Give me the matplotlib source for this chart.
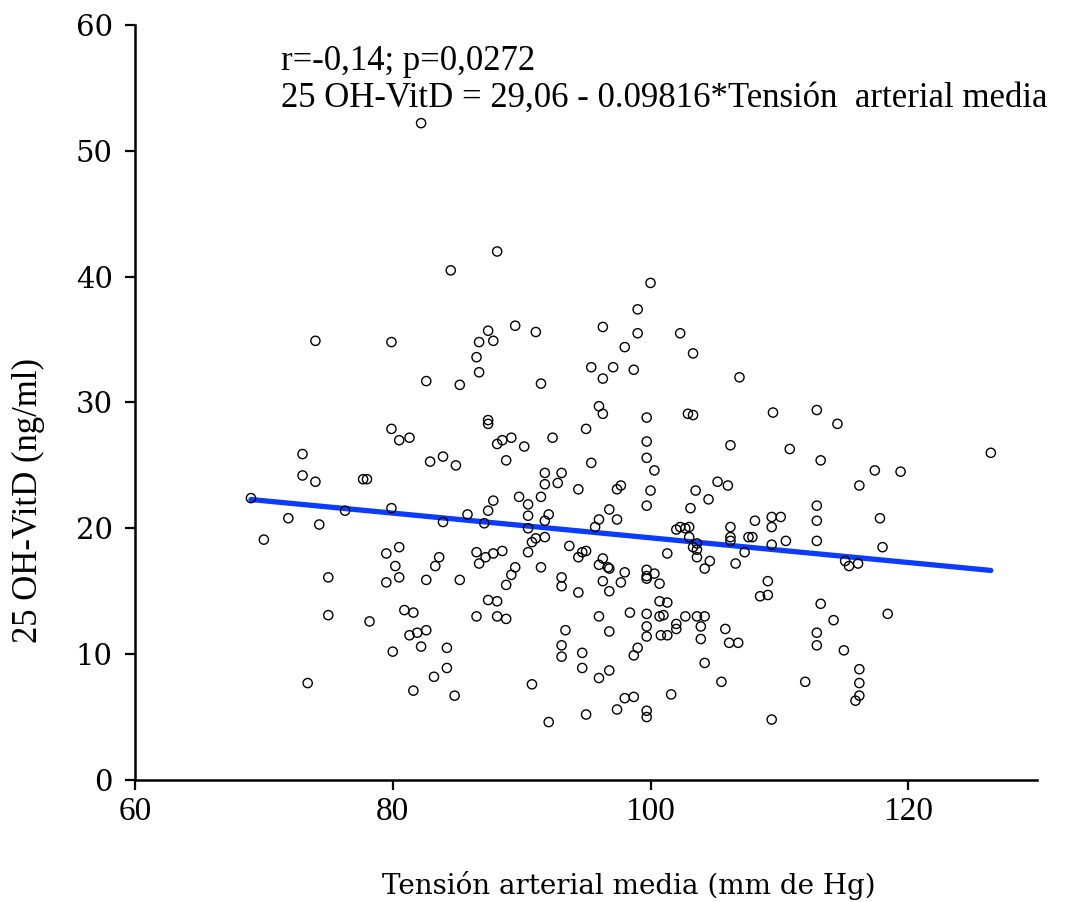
from matplotlib import pyplot as plt
import numpy as np

# mean arterial pressure (mm Hg) and 25 OH-VitD (ng/ml).
tension = [
    82.2, 84.5, 74.0, 79.9, 86.7, 86.5, 86.7, 82.6, 85.2, 79.9,
    88.1, 100.0, 99.0, 96.3, 99.0, 102.3, 89.5, 91.1, 87.4, 87.8,
    98.0, 103.3, 95.4, 97.1, 98.7, 96.3, 91.5, 96.0, 96.3, 99.7,
    102.9, 103.3, 87.4, 87.4, 95.0,
    106.9, 109.5, 112.9, 114.5,
    80.5, 81.3, 73.0, 73.0, 74.0, 77.7, 78.0, 82.9, 83.9, 84.9,
    69.0, 71.9, 74.3, 76.3, 79.9, 83.9, 85.8, 70.0, 79.5, 80.5,
    83.6, 83.3, 80.2, 86.5, 86.7, 75.0, 79.5, 80.5, 82.6, 85.2,
    75.0, 78.2, 80.9, 81.6, 86.5, 81.3, 81.9, 82.6, 82.2, 84.2,
    80.0, 84.2, 83.2, 73.4, 81.6, 84.8,
    88.1, 88.5, 89.2, 90.2, 92.4, 99.7, 106.2,
    88.8, 95.4, 99.7, 100.3, 91.8, 93.1, 91.8, 92.8, 94.4, 97.4,
    97.7, 100.0, 99.7, 103.5, 105.2, 106.0, 104.5, 103.1,
    87.8, 87.4, 89.8, 90.5, 91.5, 90.5, 92.1, 91.8, 96.8, 97.4,
    96.0, 95.7, 87.1, 90.5, 91.8, 91.1, 90.8,
    102.0, 102.3, 102.7, 103.0, 103.0, 103.6, 103.3, 103.6, 103.6, 106.2, 106.2,
    87.2, 87.8, 88.5, 90.5, 93.7, 94.4, 94.7, 95.0, 96.3, 96.0,
    96.7, 96.8, 98.0, 97.7, 96.3, 96.8,
    99.7, 99.7, 99.7, 100.3, 100.7, 101.3, 104.2, 104.6,
    91.5, 89.5, 89.2, 88.8, 93.1, 93.1, 94.4, 87.4, 88.1, 88.1,
    88.8, 96.0, 98.4, 99.7, 100.7, 101.3, 100.7, 101.0, 102.7, 103.6,
    104.2, 102.0, 102.0, 103.9, 103.9, 105.8, 100.8, 101.3, 99.7, 99.7,
    96.8, 93.4, 93.1, 93.1, 94.7, 94.7, 96.0, 96.8, 99.0, 98.7,
    104.2, 105.5, 90.8, 98.0, 98.7, 101.6, 97.4, 99.7, 99.7, 95.0, 92.1,
    110.8, 113.2, 117.4, 119.4, 126.4, 116.2, 112.9, 112.9, 112.9, 117.8,
    108.1, 109.4, 110.1, 109.4, 110.5, 109.4, 107.6, 107.9, 106.2, 107.3,
    106.6, 118.0, 115.1, 115.4, 116.1, 109.1, 108.5, 109.1, 113.2, 114.2,
    118.4, 112.9, 112.9, 115.0, 106.1, 106.8, 116.2, 116.2, 116.2, 115.9,
    112.0, 109.4,
]
vitd = [
    52.2, 40.5, 34.9, 34.8, 34.8, 33.6, 32.4, 31.7, 31.4, 27.9,
    42.0, 39.5, 37.4, 36.0, 35.5, 35.5, 36.1, 35.6, 35.7, 34.9,
    34.4, 33.9, 32.8, 32.8, 32.6, 31.9, 31.5, 29.7, 29.1, 28.8,
    29.1, 29.0, 28.6, 28.3, 27.9,
    32.0, 29.2, 29.4, 28.3,
    27.0, 27.2, 25.9, 24.2, 23.7, 23.9, 23.9, 25.3, 25.7, 25.0,
    22.4, 20.8, 20.3, 21.4, 21.6, 20.5, 21.1, 19.1, 18.0, 18.5,
    17.7, 17.0, 17.0, 18.1, 17.2, 16.1, 15.7, 16.1, 15.9, 15.9,
    13.1, 12.6, 13.5, 13.3, 13.0, 11.5, 11.7, 11.9, 10.6, 10.5,
    10.2, 8.9, 8.2, 7.7, 7.1, 6.7,
    26.7, 27.0, 27.2, 26.5, 27.2, 26.9, 26.6,
    25.4, 25.2, 25.6, 24.6, 24.4, 24.4, 23.5, 23.6, 23.1, 23.1,
    23.4, 23.0, 21.8, 23.0, 23.7, 23.4, 22.3, 21.6,
    22.2, 21.4, 22.5, 21.9, 22.5, 21.0, 21.1, 20.6, 21.5, 20.7,
    20.7, 20.1, 20.4, 20.0, 19.3, 19.2, 18.9,
    19.9, 20.1, 20.0, 20.1, 19.3, 18.8, 18.5, 18.3, 17.7, 20.1, 19.3,
    17.7, 18.0, 18.2, 18.1, 18.6, 17.7, 18.1, 18.2, 17.6, 17.1,
    16.9, 16.8, 16.5, 15.7, 15.8, 15.0,
    16.7, 16.2, 16.0, 16.4, 15.6, 18.0, 16.8, 17.4,
    16.9, 16.9, 16.3, 15.5, 16.1, 15.4, 14.9, 14.3, 14.2, 13.0,
    12.8, 13.0, 13.3, 13.2, 14.2, 14.1, 13.0, 13.1, 13.0, 13.0,
    13.0, 12.4, 12.0, 12.2, 11.2, 12.0, 11.5, 11.5, 12.2, 11.4,
    11.8, 11.9, 10.7, 9.8, 10.1, 8.9, 8.1, 8.7, 10.5, 9.9,
    9.3, 7.8, 7.6, 6.5, 6.6, 6.8, 5.6, 5.5, 5.0, 5.2, 4.6,
    26.3, 25.4, 24.6, 24.5, 26.0, 23.4, 21.8, 20.6, 19.0, 20.8,
    20.6, 20.9, 20.9, 20.1, 19.0, 18.7, 19.3, 19.3, 19.0, 18.1,
    17.2, 18.5, 17.4, 17.0, 17.2, 15.8, 14.6, 14.7, 14.0, 12.7,
    13.2, 11.7, 10.7, 10.3, 10.9, 10.9, 8.8, 7.7, 6.7, 6.3,
    7.8, 4.8,
]

# regression shown on the chart.
intercept = 29.06
slope = -0.09816

x_ticks = [60, 80, 100, 120]
y_ticks = [0, 10, 20, 30, 40, 50, 60]

fig = plt.figure(figsize=(10.66, 9.02), dpi=100)
ax = fig.add_axes([0.1266, 0.1353, 0.8464, 0.837])

# regression line over the range of the data.
line_x = np.array([min(tension), max(tension)])
ax.plot(line_x, intercept + slope * line_x, color="#0a3cff", linewidth=3.8,
        solid_capstyle="round", zorder=2)

# open circles for each patient.
ax.scatter(tension, vitd, s=44, facecolors="none", edgecolors="black",
           linewidths=1.0, zorder=3)

ax.set_xlim(60, 130)
ax.set_ylim(0, 60)
ax.set_xticks(x_ticks)
ax.set_yticks(y_ticks)

# only left and bottom axis lines.
for side in ["top", "right"]:
    ax.spines[side].set_visible(False)
for side in ["left", "bottom"]:
    ax.spines[side].set_linewidth(1.8)

ax.tick_params(direction="out", length=7, width=1.6)
ax.tick_params(axis="x", pad=5)
ax.tick_params(axis="y", pad=9)
for label in ax.get_xticklabels():
    label.set_fontfamily("Liberation Serif")
    label.set_fontsize(24)
for label in ax.get_yticklabels():
    label.set_fontfamily("DejaVu Serif")
    label.set_fontsize(21)

ax.set_xlabel("Tensión arterial media (mm de Hg)", fontfamily="DejaVu Serif",
              fontsize=20)
ax.xaxis.set_label_coords(0.547, -0.12)
ax.set_ylabel("25 OH-VitD (ng/ml)", fontfamily="Liberation Serif",
              fontsize=25)
ax.yaxis.set_label_coords(-0.1, 0.37)

# stats text in the upper part of the plot.
ax.text(0.162, 0.951, "r=-0,14; p=0,0272", transform=ax.transAxes,
        fontfamily="Liberation Serif", fontsize=25, va="center")
ax.text(0.162, 0.903, "25 OH-VitD = 29,06 - 0.09816*Tensión  arterial media",
        transform=ax.transAxes, fontfamily="Liberation Serif", fontsize=25,
        va="center")

fig.savefig("out.png", dpi=100)
